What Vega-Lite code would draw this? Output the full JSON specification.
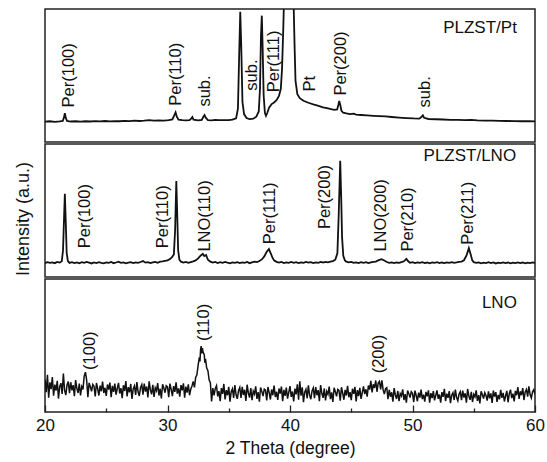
{
"$schema":"https://vega.github.io/schema/vega-lite/v6.json",
"padding":{"left":13,"top":8,"right":4,"bottom":2},
"spacing":0,
"config":{"view":{"stroke":"#222","strokeWidth":1.5},"font":"Liberation Sans","text":{"color":"#111","font":"Liberation Sans"},"line":{"color":"#111"}},
"datasets":{
"pt":[{"x":20.0,"y":15.3},{"x":20.4,"y":15.6},{"x":20.8,"y":15.2},{"x":21.2,"y":15.5},{"x":21.45,"y":15.8},{"x":21.55,"y":18.5},{"x":21.62,"y":21.6},{"x":21.7,"y":18},{"x":21.8,"y":15.9},{"x":22.1,"y":15.4},{"x":22.5,"y":15.6},{"x":22.9,"y":15.3},{"x":23.3,"y":15.6},{"x":23.7,"y":15.4},{"x":24.1,"y":15.7},{"x":24.5,"y":15.5},{"x":24.9,"y":15.8},{"x":25.3,"y":15.5},{"x":25.7,"y":15.7},{"x":26.1,"y":15.6},{"x":26.5,"y":15.9},{"x":26.9,"y":15.7},{"x":27.3,"y":16.0},{"x":27.7,"y":15.8},{"x":28.1,"y":16.0},{"x":28.5,"y":16.4},{"x":28.9,"y":16.0},{"x":29.3,"y":16.3},{"x":29.7,"y":16.1},{"x":30.1,"y":16.4},{"x":30.4,"y":17.0},{"x":30.55,"y":20.0},{"x":30.66,"y":22.3},{"x":30.76,"y":19.0},{"x":30.9,"y":16.8},{"x":31.2,"y":16.4},{"x":31.5,"y":16.2},{"x":31.8,"y":16.5},{"x":31.95,"y":17.8},{"x":32.03,"y":18.8},{"x":32.12,"y":16.8},{"x":32.5,"y":16.3},{"x":32.8,"y":16.6},{"x":32.93,"y":19.0},{"x":33.02,"y":20.3},{"x":33.12,"y":18.3},{"x":33.3,"y":16.5},{"x":33.6,"y":16.3},{"x":33.9,"y":16.6},{"x":34.2,"y":16.4},{"x":34.6,"y":16.5},{"x":35.0,"y":16.5},{"x":35.3,"y":16.8},{"x":35.6,"y":17.8},{"x":35.75,"y":25},{"x":35.85,"y":65},{"x":35.94,"y":98},{"x":36.02,"y":72},{"x":36.12,"y":30},{"x":36.25,"y":21},{"x":36.45,"y":18},{"x":36.7,"y":17.2},{"x":37.0,"y":17.5},{"x":37.25,"y":19.0},{"x":37.45,"y":23},{"x":37.55,"y":40},{"x":37.63,"y":80},{"x":37.7,"y":95},{"x":37.77,"y":70},{"x":37.85,"y":35},{"x":37.95,"y":22},{"x":38.04,"y":19.7},{"x":38.15,"y":22},{"x":38.3,"y":26},{"x":38.5,"y":28.5},{"x":38.7,"y":29.7},{"x":38.9,"y":31.5},{"x":39.1,"y":34.7},{"x":39.25,"y":40},{"x":39.35,"y":55},{"x":39.45,"y":85},{"x":39.52,"y":110},{"x":39.7,"y":250},{"x":39.9,"y":320},{"x":40.1,"y":250},{"x":40.28,"y":110},{"x":40.38,"y":70},{"x":40.45,"y":46},{"x":40.6,"y":36},{"x":40.8,"y":33},{"x":41.1,"y":31},{"x":41.5,"y":29.5},{"x":41.9,"y":28.3},{"x":42.26,"y":27.4},{"x":42.7,"y":26},{"x":43.1,"y":25.2},{"x":43.6,"y":24.2},{"x":43.85,"y":24.5},{"x":43.95,"y":28},{"x":44.02,"y":30.8},{"x":44.1,"y":28},{"x":44.2,"y":23.5},{"x":44.35,"y":22},{"x":44.6,"y":21.5},{"x":44.9,"y":21},{"x":45.2,"y":21.3},{"x":45.4,"y":20.6},{"x":45.8,"y":20.3},{"x":46.3,"y":20.0},{"x":46.8,"y":19.7},{"x":47.3,"y":19.5},{"x":47.8,"y":19.2},{"x":48.3,"y":18.8},{"x":48.9,"y":18.4},{"x":49.5,"y":18.0},{"x":50.1,"y":17.7},{"x":50.55,"y":17.6},{"x":50.75,"y":19.0},{"x":50.85,"y":20.0},{"x":50.95,"y":18.2},{"x":51.3,"y":17.3},{"x":51.9,"y":17.1},{"x":52.5,"y":16.9},{"x":53.1,"y":16.7},{"x":53.7,"y":16.6},{"x":54.3,"y":16.4},{"x":54.8,"y":16.6},{"x":55.3,"y":16.2},{"x":55.9,"y":16.1},{"x":56.5,"y":16.0},{"x":57.1,"y":15.9},{"x":57.7,"y":15.8},{"x":58.3,"y":15.7},{"x":58.9,"y":15.6},{"x":59.5,"y":15.6},{"x":60.0,"y":15.5}],
"ptLab":[{"x":21.93,"y":26.0,"t":"Per(100)"},{"x":30.66,"y":27.3,"t":"Per(110)"},{"x":33.08,"y":26.6,"t":"sub."},{"x":36.92,"y":38.6,"t":"sub."},{"x":38.71,"y":37.4,"t":"Per(111)"},{"x":41.61,"y":37.9,"t":"Pt"},{"x":44.17,"y":34.9,"t":"Per(200)"},{"x":50.99,"y":26.0,"t":"sub."}],
"film":[{"x":20.0,"y":10.5},{"x":20.2,"y":11.2},{"x":20.4,"y":10.6},{"x":20.6,"y":11.0},{"x":20.8,"y":10.4},{"x":21.0,"y":11.3},{"x":21.2,"y":10.8},{"x":21.37,"y":11.8},{"x":21.47,"y":20},{"x":21.54,"y":40},{"x":21.62,"y":62.6},{"x":21.7,"y":40},{"x":21.77,"y":18},{"x":21.87,"y":12},{"x":22.0,"y":10.6},{"x":22.2,"y":11.2},{"x":22.4,"y":10.5},{"x":22.6,"y":11.0},{"x":22.8,"y":10.3},{"x":23.0,"y":11.1},{"x":23.2,"y":10.6},{"x":23.4,"y":11.4},{"x":23.6,"y":10.8},{"x":23.8,"y":10.2},{"x":24.0,"y":11.0},{"x":24.2,"y":10.5},{"x":24.4,"y":11.2},{"x":24.6,"y":10.7},{"x":24.8,"y":10.3},{"x":25.0,"y":11.0},{"x":25.2,"y":10.6},{"x":25.4,"y":11.3},{"x":25.6,"y":10.4},{"x":25.8,"y":10.9},{"x":26.0,"y":11.5},{"x":26.2,"y":10.6},{"x":26.4,"y":11.0},{"x":26.6,"y":10.3},{"x":26.8,"y":10.8},{"x":27.0,"y":11.2},{"x":27.2,"y":10.5},{"x":27.4,"y":11.0},{"x":27.6,"y":10.6},{"x":27.8,"y":11.3},{"x":28.0,"y":12.0},{"x":28.2,"y":10.8},{"x":28.4,"y":11.2},{"x":28.6,"y":10.5},{"x":28.8,"y":11.0},{"x":29.0,"y":11.4},{"x":29.2,"y":10.7},{"x":29.4,"y":11.5},{"x":29.6,"y":11.8},{"x":29.8,"y":12.2},{"x":30.0,"y":12.5},{"x":30.2,"y":13.5},{"x":30.37,"y":15},{"x":30.52,"y":17},{"x":30.62,"y":35},{"x":30.72,"y":72.2},{"x":30.8,"y":45},{"x":30.87,"y":20},{"x":30.97,"y":13},{"x":31.1,"y":11.5},{"x":31.3,"y":10.8},{"x":31.5,"y":11.4},{"x":31.7,"y":10.6},{"x":31.9,"y":11.2},{"x":32.1,"y":11.8},{"x":32.3,"y":12.5},{"x":32.5,"y":14},{"x":32.7,"y":16},{"x":32.88,"y":17.4},{"x":33.0,"y":15.8},{"x":33.15,"y":16.5},{"x":33.3,"y":13},{"x":33.5,"y":11.5},{"x":33.7,"y":10.8},{"x":33.9,"y":11.3},{"x":34.1,"y":10.5},{"x":34.3,"y":11.1},{"x":34.5,"y":10.6},{"x":34.7,"y":11.4},{"x":34.9,"y":10.8},{"x":35.1,"y":10.3},{"x":35.3,"y":11.0},{"x":35.5,"y":10.6},{"x":35.7,"y":11.2},{"x":35.9,"y":10.5},{"x":36.1,"y":11.0},{"x":36.3,"y":10.7},{"x":36.5,"y":11.3},{"x":36.7,"y":10.4},{"x":36.9,"y":11.0},{"x":37.1,"y":11.5},{"x":37.3,"y":11.2},{"x":37.5,"y":12.0},{"x":37.7,"y":13.2},{"x":37.9,"y":15.5},{"x":38.1,"y":19},{"x":38.28,"y":21},{"x":38.42,"y":18},{"x":38.57,"y":14.5},{"x":38.7,"y":12.5},{"x":38.9,"y":11.4},{"x":39.1,"y":10.8},{"x":39.3,"y":11.3},{"x":39.5,"y":10.5},{"x":39.7,"y":11.0},{"x":39.9,"y":10.6},{"x":40.1,"y":11.3},{"x":40.3,"y":10.7},{"x":40.5,"y":11.1},{"x":40.7,"y":10.4},{"x":40.9,"y":11.0},{"x":41.1,"y":10.6},{"x":41.3,"y":11.4},{"x":41.5,"y":10.8},{"x":41.7,"y":11.2},{"x":41.9,"y":10.5},{"x":42.1,"y":11.0},{"x":42.3,"y":10.7},{"x":42.5,"y":11.3},{"x":42.7,"y":10.9},{"x":42.9,"y":11.4},{"x":43.1,"y":11.0},{"x":43.3,"y":11.6},{"x":43.5,"y":12.0},{"x":43.7,"y":13.0},{"x":43.87,"y":18},{"x":43.97,"y":45},{"x":44.1,"y":87.4},{"x":44.18,"y":60},{"x":44.25,"y":30},{"x":44.35,"y":16},{"x":44.48,"y":12.5},{"x":44.6,"y":11.5},{"x":44.8,"y":11.0},{"x":45.0,"y":11.3},{"x":45.2,"y":10.6},{"x":45.4,"y":11.0},{"x":45.6,"y":10.5},{"x":45.8,"y":11.2},{"x":46.0,"y":10.7},{"x":46.2,"y":11.1},{"x":46.4,"y":10.4},{"x":46.6,"y":11.0},{"x":46.8,"y":11.3},{"x":47.0,"y":11.6},{"x":47.2,"y":12.5},{"x":47.47,"y":13.4},{"x":47.7,"y":12.4},{"x":47.9,"y":11.3},{"x":48.1,"y":10.6},{"x":48.3,"y":11.0},{"x":48.5,"y":10.4},{"x":48.7,"y":10.9},{"x":48.9,"y":10.6},{"x":49.1,"y":11.2},{"x":49.3,"y":11.8},{"x":49.5,"y":13.6},{"x":49.65,"y":11.8},{"x":49.8,"y":10.7},{"x":50.0,"y":11.1},{"x":50.2,"y":10.4},{"x":50.4,"y":11.0},{"x":50.6,"y":10.6},{"x":50.8,"y":11.2},{"x":51.0,"y":10.5},{"x":51.2,"y":10.9},{"x":51.4,"y":10.3},{"x":51.6,"y":11.0},{"x":51.8,"y":10.6},{"x":52.0,"y":11.1},{"x":52.2,"y":10.4},{"x":52.4,"y":10.9},{"x":52.6,"y":10.5},{"x":52.8,"y":11.0},{"x":53.0,"y":10.6},{"x":53.2,"y":11.2},{"x":53.4,"y":10.7},{"x":53.6,"y":11.0},{"x":53.8,"y":11.4},{"x":54.0,"y":11.6},{"x":54.2,"y":12.6},{"x":54.42,"y":16.5},{"x":54.6,"y":21.7},{"x":54.75,"y":17},{"x":54.88,"y":12.5},{"x":55.0,"y":11.2},{"x":55.2,"y":10.6},{"x":55.4,"y":11.0},{"x":55.6,"y":10.3},{"x":55.8,"y":10.8},{"x":56.0,"y":10.5},{"x":56.2,"y":11.1},{"x":56.4,"y":10.4},{"x":56.6,"y":10.9},{"x":56.8,"y":10.2},{"x":57.0,"y":10.8},{"x":57.2,"y":10.4},{"x":57.4,"y":11.0},{"x":57.6,"y":10.5},{"x":57.8,"y":10.9},{"x":58.0,"y":10.3},{"x":58.2,"y":10.8},{"x":58.4,"y":10.4},{"x":58.6,"y":11.0},{"x":58.8,"y":10.5},{"x":59.0,"y":10.9},{"x":59.2,"y":10.3},{"x":59.4,"y":10.8},{"x":59.6,"y":10.4},{"x":59.8,"y":10.9},{"x":60.0,"y":10.6}],
"filmLab":[{"x":23.27,"y":21.6,"t":"Per(100)"},{"x":29.61,"y":21.6,"t":"Per(110)"},{"x":33.08,"y":19.1,"t":"LNO(110)"},{"x":38.34,"y":24.7,"t":"Per(111)"},{"x":42.83,"y":36.0,"t":"Per(200)"},{"x":47.43,"y":19.1,"t":"LNO(200)"},{"x":49.65,"y":19.1,"t":"Per(210)"},{"x":54.54,"y":24.2,"t":"Per(211)"}],
"lno":[{"x":20.0,"y":24.5},{"x":20.1,"y":14.9},{"x":20.2,"y":28.0},{"x":20.3,"y":10.7},{"x":20.4,"y":22.3},{"x":20.5,"y":17.2},{"x":20.6,"y":26.2},{"x":20.7,"y":12.2},{"x":20.8,"y":20.6},{"x":20.9,"y":16.0},{"x":21.0,"y":23.5},{"x":21.1,"y":10.1},{"x":21.2,"y":19.1},{"x":21.3,"y":21.7},{"x":21.4,"y":13.6},{"x":21.5,"y":29.0},{"x":21.6,"y":16.2},{"x":21.7,"y":12.7},{"x":21.8,"y":20.3},{"x":21.9,"y":22.9},
{"x":22.0,"y":14.1},{"x":22.1,"y":22.4},{"x":22.2,"y":16.3},{"x":22.3,"y":20.2},{"x":22.4,"y":11.9},{"x":22.5,"y":24.0},{"x":22.6,"y":17.8},{"x":22.7,"y":14.3},{"x":22.8,"y":21.4},{"x":22.9,"y":12.4},{"x":23.0,"y":19.2},{"x":23.1,"y":17.0},{"x":23.2,"y":27.0},{"x":23.3,"y":30.0},{"x":23.4,"y":24.0},{"x":23.5,"y":11.2},{"x":23.6,"y":21.9},{"x":23.7,"y":19.0},{"x":23.8,"y":15.5},{"x":23.9,"y":20.7},
{"x":24.0,"y":19.4},{"x":24.1,"y":11.7},{"x":24.2,"y":21.8},{"x":24.3,"y":17.5},{"x":24.4,"y":12.4},{"x":24.5,"y":19.9},{"x":24.6,"y":15.6},{"x":24.7,"y":22.8},{"x":24.8,"y":14.3},{"x":24.9,"y":18.2},{"x":25.0,"y":12.1},{"x":25.1,"y":20.7},{"x":25.2,"y":16.8},{"x":25.3,"y":22.1},{"x":25.4,"y":11.2},{"x":25.5,"y":19.6},{"x":25.6,"y":15.1},{"x":25.7,"y":21.3},{"x":25.8,"y":13.1},{"x":25.9,"y":17.7},
{"x":26.0,"y":21.9},{"x":26.1,"y":13.9},{"x":26.2,"y":17.9},{"x":26.3,"y":10.4},{"x":26.4,"y":20.1},{"x":26.5,"y":15.8},{"x":26.6,"y":23.3},{"x":26.7,"y":11.7},{"x":26.8,"y":18.7},{"x":26.9,"y":14.8},{"x":27.0,"y":21.1},{"x":27.1,"y":9.9},{"x":27.2,"y":17.4},{"x":27.3,"y":19.6},{"x":27.4,"y":12.8},{"x":27.5,"y":22.5},{"x":27.6,"y":15.0},{"x":27.7,"y":12.1},{"x":27.8,"y":18.4},{"x":27.9,"y":20.6},
{"x":28.0,"y":13.1},{"x":28.1,"y":21.4},{"x":28.2,"y":15.3},{"x":28.3,"y":19.2},{"x":28.4,"y":10.9},{"x":28.5,"y":23.0},{"x":28.6,"y":16.8},{"x":28.7,"y":13.3},{"x":28.8,"y":20.4},{"x":28.9,"y":11.4},{"x":29.0,"y":18.2},{"x":29.1,"y":16.0},{"x":29.2,"y":21.8},{"x":29.3,"y":12.4},{"x":29.4,"y":17.5},{"x":29.5,"y":10.2},{"x":29.6,"y":20.9},{"x":29.7,"y":18.0},{"x":29.8,"y":14.5},{"x":29.9,"y":19.7},
{"x":30.0,"y":18.9},{"x":30.1,"y":11.2},{"x":30.2,"y":21.3},{"x":30.3,"y":17.0},{"x":30.4,"y":11.9},{"x":30.5,"y":19.4},{"x":30.6,"y":15.1},{"x":30.7,"y":22.3},{"x":30.8,"y":13.8},{"x":30.9,"y":17.7},{"x":31.0,"y":11.6},{"x":31.1,"y":20.2},{"x":31.2,"y":16.3},{"x":31.3,"y":21.6},{"x":31.4,"y":10.7},{"x":31.5,"y":19.1},{"x":31.6,"y":14.6},{"x":31.7,"y":20.8},{"x":31.8,"y":12.6},{"x":31.9,"y":17.2},
{"x":32.0,"y":19.5},{"x":32.1,"y":23.0},{"x":32.2,"y":18.5},{"x":32.3,"y":26.0},{"x":32.4,"y":28.0},{"x":32.5,"y":35.0},{"x":32.6,"y":41.0},{"x":32.65,"y":38.0},{"x":32.7,"y":47.0},{"x":32.75,"y":49.5},{"x":32.8,"y":44.0},{"x":32.85,"y":48.0},{"x":32.9,"y":45.0},{"x":33.0,"y":43.0},{"x":33.05,"y":37.0},{"x":33.1,"y":40.0},{"x":33.2,"y":33.0},{"x":33.3,"y":31.0},{"x":33.4,"y":24.0},{"x":33.5,"y":22.0},{"x":33.6,"y":8.0},{"x":33.7,"y":18.0},{"x":33.8,"y":12.5},{"x":33.9,"y":17.5},
{"x":34.0,"y":19.7},{"x":34.1,"y":11.7},{"x":34.2,"y":15.7},{"x":34.3,"y":8.2},{"x":34.4,"y":17.9},{"x":34.5,"y":13.6},{"x":34.6,"y":21.1},{"x":34.7,"y":9.5},{"x":34.8,"y":16.5},{"x":34.9,"y":12.6},{"x":35.0,"y":18.9},{"x":35.1,"y":7.7},{"x":35.2,"y":15.2},{"x":35.3,"y":17.4},{"x":35.4,"y":10.6},{"x":35.5,"y":20.3},{"x":35.6,"y":12.8},{"x":35.7,"y":9.9},{"x":35.8,"y":16.2},{"x":35.9,"y":18.4},
{"x":36.0,"y":10.6},{"x":36.1,"y":18.9},{"x":36.2,"y":12.8},{"x":36.3,"y":16.7},{"x":36.4,"y":8.4},{"x":36.5,"y":20.5},{"x":36.6,"y":14.3},{"x":36.7,"y":10.8},{"x":36.8,"y":17.9},{"x":36.9,"y":8.9},{"x":37.0,"y":15.7},{"x":37.1,"y":13.5},{"x":37.2,"y":19.3},{"x":37.3,"y":9.9},{"x":37.4,"y":15.0},{"x":37.5,"y":7.7},{"x":37.6,"y":18.4},{"x":37.7,"y":15.5},{"x":37.8,"y":12.0},{"x":37.9,"y":17.2},
{"x":38.0,"y":16.4},{"x":38.1,"y":8.7},{"x":38.2,"y":18.8},{"x":38.3,"y":14.5},{"x":38.4,"y":9.4},{"x":38.5,"y":16.9},{"x":38.6,"y":12.6},{"x":38.7,"y":19.8},{"x":38.8,"y":11.3},{"x":38.9,"y":15.2},{"x":39.0,"y":9.1},{"x":39.1,"y":17.7},{"x":39.2,"y":13.8},{"x":39.3,"y":19.1},{"x":39.4,"y":8.2},{"x":39.5,"y":16.6},{"x":39.6,"y":12.1},{"x":39.7,"y":18.3},{"x":39.8,"y":10.1},{"x":39.9,"y":14.7},
{"x":40.0,"y":19.4},{"x":40.1,"y":11.4},{"x":40.2,"y":15.4},{"x":40.3,"y":7.9},{"x":40.4,"y":17.6},{"x":40.5,"y":13.3},{"x":40.6,"y":20.8},{"x":40.7,"y":9.2},{"x":40.8,"y":23.0},{"x":40.9,"y":12.3},{"x":41.0,"y":18.6},{"x":41.1,"y":7.4},{"x":41.2,"y":14.9},{"x":41.3,"y":17.1},{"x":41.4,"y":10.3},{"x":41.5,"y":20.0},{"x":41.6,"y":12.5},{"x":41.7,"y":9.6},{"x":41.8,"y":15.9},{"x":41.9,"y":18.1},
{"x":42.0,"y":10.4},{"x":42.1,"y":18.7},{"x":42.2,"y":12.6},{"x":42.3,"y":16.5},{"x":42.4,"y":8.2},{"x":42.5,"y":20.3},{"x":42.6,"y":14.1},{"x":42.7,"y":10.6},{"x":42.8,"y":17.7},{"x":42.9,"y":8.7},{"x":43.0,"y":15.5},{"x":43.1,"y":13.3},{"x":43.2,"y":19.1},{"x":43.3,"y":9.7},{"x":43.4,"y":14.8},{"x":43.5,"y":7.5},{"x":43.6,"y":18.2},{"x":43.7,"y":15.3},{"x":43.8,"y":11.8},{"x":43.9,"y":17.0},
{"x":44.0,"y":16.2},{"x":44.1,"y":8.5},{"x":44.2,"y":18.6},{"x":44.3,"y":14.3},{"x":44.4,"y":9.2},{"x":44.5,"y":16.7},{"x":44.6,"y":12.4},{"x":44.7,"y":19.6},{"x":44.8,"y":11.1},{"x":44.9,"y":15.0},{"x":45.0,"y":8.9},{"x":45.1,"y":17.5},{"x":45.2,"y":13.6},{"x":45.3,"y":18.9},{"x":45.4,"y":8.0},{"x":45.5,"y":16.4},{"x":45.6,"y":11.9},{"x":45.7,"y":18.1},{"x":45.8,"y":9.9},{"x":45.9,"y":14.5},
{"x":46.0,"y":19.3},{"x":46.1,"y":13.4},{"x":46.2,"y":17.1},{"x":46.3,"y":11.6},{"x":46.4,"y":19.9},{"x":46.5,"y":16.9},{"x":46.6,"y":23.4},{"x":46.7,"y":14.7},{"x":46.8,"y":20.8},{"x":46.9,"y":18.1},{"x":47.0,"y":23.7},{"x":47.1,"y":15.2},{"x":47.2,"y":21.7},{"x":47.3,"y":23.0},{"x":47.4,"y":17.0},{"x":47.5,"y":23.8},{"x":47.6,"y":16.8},{"x":47.7,"y":13.5},{"x":47.8,"y":17.5},{"x":47.9,"y":18.3},
{"x":48.0,"y":9.6},{"x":48.1,"y":16.7},{"x":48.2,"y":11.5},{"x":48.3,"y":14.8},{"x":48.4,"y":7.7},{"x":48.5,"y":18.0},{"x":48.6,"y":12.8},{"x":48.7,"y":9.8},{"x":48.8,"y":15.8},{"x":48.9,"y":8.2},{"x":49.0,"y":13.9},{"x":49.1,"y":12.1},{"x":49.2,"y":17.0},{"x":49.3,"y":9.0},{"x":49.4,"y":13.4},{"x":49.5,"y":7.1},{"x":49.6,"y":16.2},{"x":49.7,"y":13.8},{"x":49.8,"y":10.8},{"x":49.9,"y":15.2},
{"x":50.0,"y":14.0},{"x":50.1,"y":7.5},{"x":50.2,"y":16.1},{"x":50.3,"y":12.4},{"x":50.4,"y":8.1},{"x":50.5,"y":14.5},{"x":50.6,"y":10.8},{"x":50.7,"y":16.9},{"x":50.8,"y":9.7},{"x":50.9,"y":13.0},{"x":51.0,"y":7.8},{"x":51.1,"y":15.1},{"x":51.2,"y":11.8},{"x":51.3,"y":16.3},{"x":51.4,"y":7.1},{"x":51.5,"y":14.2},{"x":51.6,"y":10.4},{"x":51.7,"y":15.7},{"x":51.8,"y":8.7},{"x":51.9,"y":12.6},
{"x":52.0,"y":16.3},{"x":52.1,"y":9.9},{"x":52.2,"y":13.1},{"x":52.3,"y":7.1},{"x":52.4,"y":14.9},{"x":52.5,"y":11.4},{"x":52.6,"y":17.4},{"x":52.7,"y":8.2},{"x":52.8,"y":13.8},{"x":52.9,"y":10.6},{"x":53.0,"y":15.7},{"x":53.1,"y":6.7},{"x":53.2,"y":12.7},{"x":53.3,"y":14.5},{"x":53.4,"y":9.0},{"x":53.5,"y":16.8},{"x":53.6,"y":10.8},{"x":53.7,"y":8.5},{"x":53.8,"y":13.5},{"x":53.9,"y":15.3},
{"x":54.0,"y":8.9},{"x":54.1,"y":16.0},{"x":54.2,"y":10.8},{"x":54.3,"y":14.1},{"x":54.4,"y":7.0},{"x":54.5,"y":17.3},{"x":54.6,"y":12.1},{"x":54.7,"y":9.1},{"x":54.8,"y":15.1},{"x":54.9,"y":7.5},{"x":55.0,"y":13.2},{"x":55.1,"y":11.4},{"x":55.2,"y":16.3},{"x":55.3,"y":8.3},{"x":55.4,"y":12.7},{"x":55.5,"y":6.4},{"x":55.6,"y":15.5},{"x":55.7,"y":13.1},{"x":55.8,"y":10.1},{"x":55.9,"y":14.5},
{"x":56.0,"y":12.4},{"x":56.1,"y":8.5},{"x":56.2,"y":15.5},{"x":56.3,"y":10.2},{"x":56.4,"y":14.0},{"x":56.5,"y":6.9},{"x":56.6,"y":16.1},{"x":56.7,"y":11.6},{"x":56.8,"y":14.9},{"x":56.9,"y":7.6},{"x":57.0,"y":12.8},{"x":57.1,"y":9.5},{"x":57.2,"y":16.7},{"x":57.3,"y":10.6},{"x":57.4,"y":14.3},{"x":57.5,"y":7.9},{"x":57.6,"y":12.2},{"x":57.7,"y":15.9},{"x":57.8,"y":7.3},{"x":57.9,"y":13.8},
{"x":58.0,"y":16.8},{"x":58.1,"y":10.5},{"x":58.2,"y":13.8},{"x":58.3,"y":7.9},{"x":58.4,"y":15.9},{"x":58.5,"y":12.6},{"x":58.6,"y":18.8},{"x":58.7,"y":9.8},{"x":58.8,"y":15.6},{"x":58.9,"y":12.6},{"x":59.0,"y":17.9},{"x":59.1,"y":9.0},{"x":59.2,"y":15.1},{"x":59.3,"y":17.0},{"x":59.4,"y":11.5},{"x":59.5,"y":19.3},{"x":59.6,"y":13.1},{"x":59.7,"y":10.5},{"x":59.8,"y":15.2},{"x":59.9,"y":16.8},{"x":60.0,"y":13.3}],
"lnoLab":[{"x":23.7,"y":31.6,"t":"(100)"},{"x":33.02,"y":53.3,"t":"(110)"},{"x":47.29,"y":29.1,"t":"(200)"}]
},
"vconcat":[
{"width":490,"height":133,
 "encoding":{"x":{"field":"x","type":"quantitative","scale":{"domain":[20,60],"nice":false,"zero":false},"axis":null},
  "y":{"field":"y","type":"quantitative","scale":{"domain":[0,100],"nice":false},"axis":null}},
 "layer":[
  {"data":{"name":"pt"},"mark":{"type":"line","strokeWidth":1.8,"clip":true},"encoding":{}},
  {"data":{"name":"ptLab"},"mark":{"type":"text","angle":270,"align":"left","baseline":"middle","fontSize":16.5},"encoding":{"text":{"field":"t"}}},
  {"data":{"values":[{"x":58.52,"y":86,"t":"PLZST/Pt"}]},"mark":{"type":"text","align":"right","baseline":"middle","fontSize":17},"encoding":{"text":{"field":"t"}}}
 ]},
{"width":490,"height":133,
 "encoding":{"x":{"field":"x","type":"quantitative","scale":{"domain":[20,60],"nice":false,"zero":false},"axis":null},
  "y":{"field":"y","type":"quantitative","scale":{"domain":[0,100],"nice":false},"axis":{"title":"Intensity (a.u.)","labels":false,"ticks":false,"domain":false,"grid":false,"titleFontSize":18,"titleFontWeight":"normal","titleColor":"#111","titlePadding":13,"titleY":74.5}}},
 "layer":[
  {"data":{"name":"film"},"mark":{"type":"line","strokeWidth":1.8,"clip":true},"encoding":{}},
  {"data":{"name":"filmLab"},"mark":{"type":"text","angle":270,"align":"left","baseline":"middle","fontSize":16.5},"encoding":{"text":{"field":"t"}}},
  {"data":{"values":[{"x":58.46,"y":90.8,"t":"PLZST/LNO"}]},"mark":{"type":"text","align":"right","baseline":"middle","fontSize":17},"encoding":{"text":{"field":"t"}}}
 ]},
{"width":490,"height":133,
 "encoding":{"x":{"field":"x","type":"quantitative","scale":{"domain":[20,60],"nice":false,"zero":false},
   "axis":{"values":[20,25,30,35,40,45,50,55,60],"labelExpr":"datum.value % 10 === 0 ? datum.label : ''","tickSize":{"condition":{"test":"datum.value % 10 !== 0","value":-4},"value":-7},"tickColor":"#222","tickWidth":1.3,"domain":false,"grid":false,"labelFontSize":17,"labelColor":"#111","labelPadding":12,"labelFlush":false,"title":"2 Theta (degree)","titleFontSize":17.5,"titleFontWeight":"normal","titleColor":"#111","titlePadding":6}},
  "y":{"field":"y","type":"quantitative","scale":{"domain":[0,100],"nice":false},"axis":null}},
 "layer":[
  {"data":{"name":"lno"},"mark":{"type":"line","strokeWidth":1.5,"clip":true},"encoding":{}},
  {"data":{"name":"lnoLab"},"mark":{"type":"text","angle":270,"align":"left","baseline":"middle","fontSize":16.5},"encoding":{"text":{"field":"t"}}},
  {"data":{"values":[{"x":58.52,"y":82,"t":"LNO"}]},"mark":{"type":"text","align":"right","baseline":"middle","fontSize":17},"encoding":{"text":{"field":"t"}}}
 ]}
]
}
